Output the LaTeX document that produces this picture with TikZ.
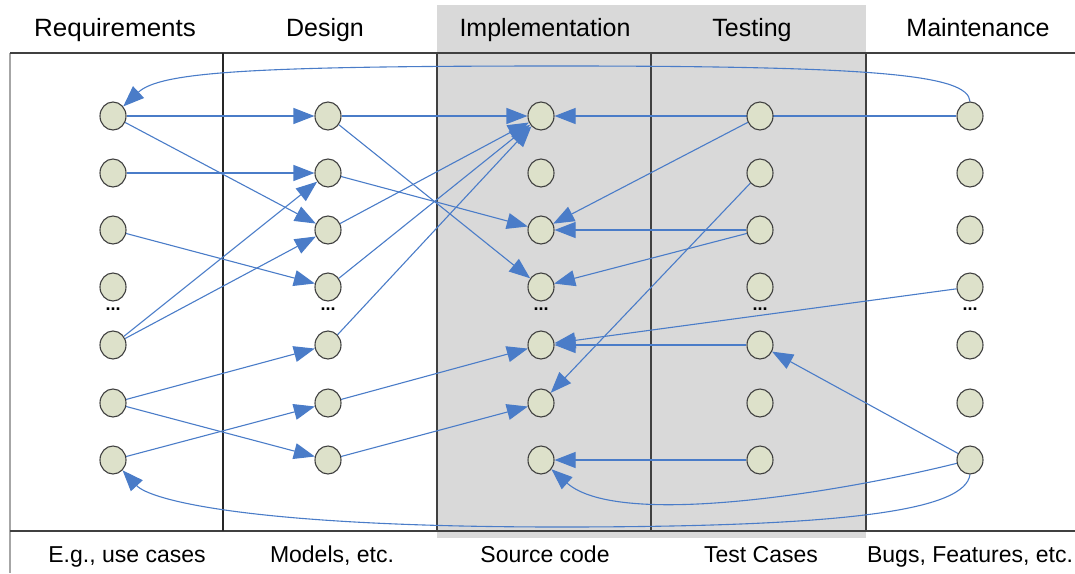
\documentclass[tikz,border=0pt]{standalone}
\usepackage{fontspec}
\setmainfont{Liberation Sans}
\usetikzlibrary{arrows.meta,shapes.geometric}
\definecolor{arrowblue}{HTML}{4A7CC8}
\definecolor{nodefill}{HTML}{DDE1CA}
\definecolor{panelgray}{HTML}{D9D9D9}
\pgfdeclarelayer{back}
\pgfdeclarelayer{edges}
\pgfsetlayers{back,edges,main}
\begin{document}
\begin{tikzpicture}[x=1pt,y=-1pt,
  nd/.style={ellipse,draw=black!75,line width=1.1pt,fill=nodefill,minimum width=26pt,minimum height=28pt,inner sep=0pt},
  arr/.style={draw=arrowblue,line width=1.1pt,-{Triangle[length=21pt,width=16pt]}},
  head/.style={font=\fontsize{25}{30}\selectfont,anchor=base,inner sep=0pt},
  foot/.style={font=\fontsize{23}{28}\selectfont,anchor=base,inner sep=0pt},
  dotsnode/.style={font=\fontsize{18}{18}\selectfont\bfseries,inner sep=0pt}]
\useasboundingbox (0,0) rectangle (1075,573);

% nodes
\foreach \c/\x in {R/113,D/328,I/541,T/760,M/970}{
  \foreach \r/\y in {1/116,2/173,3/230,4/287,5/345,6/403,7/460}{
    \node[nd] (\c\r) at (\x,\y) {};
  }
  \node[dotsnode] (\c dots) at (\x,309) {...};
}
\coordinate (topmid) at (560,66);
\coordinate (botmid) at (560,527);

% headers and footers
\node[head,xscale=1.04] (hR) at (115,36) {Requirements};
\node[head] (hD) at (325,36) {Design};
\node[head] (hI) at (545,36) {Implementation};
\node[head] (hT) at (752,36) {Testing};
\node[head] (hM) at (978,36) {Maintenance};
\node[foot] (fR) at (127,562) {E.g., use cases};
\node[foot] (fD) at (332,562) {Models, etc.};
\node[foot] (fI) at (545,562) {Source code};
\node[foot] (fT) at (761,562) {Test Cases};
\node[foot] (fM) at (970,562) {Bugs, Features, etc.};

% background panel and grid
\begin{pgfonlayer}{back}
  \fill[panelgray] (437,5) rectangle (866,538);
  \draw[black!35,line width=1.2pt] (10,53) -- (10,573);
  \draw[black!75,line width=2pt] (10,53) -- (1075,53);
  \draw[black!75,line width=2pt] (10,531) -- (1075,531);
  \draw[black!85,line width=1.2pt] (223,53) -- (223,531);
  \draw[black!75,line width=1.6pt] (437,53) -- (437,531);
  \draw[black!75,line width=2pt] (651,53) -- (651,531);
  \draw[black!75,line width=2pt] (866,53) -- (866,531);
\end{pgfonlayer}

% edges
\begin{pgfonlayer}{edges}
  % requirements -> design
  \draw[arr] (R1) -- (D1);
  \draw[arr] (R1) -- (D3);
  \draw[arr] (R2) -- (D2);
  \draw[arr] (R3) -- (D4);
  \draw[arr] (R5) -- (D2);
  \draw[arr] (R5) -- (D3);
  \draw[arr] (R6) -- (D5);
  \draw[arr] (R6) -- (D7);
  \draw[arr] (R7) -- (D6);
  % design -> implementation
  \draw[arr] (D1) -- (I1);
  \draw[arr] (D1) -- (I4);
  \draw[arr] (D2) -- (I3);
  \draw[arr] (D3) -- (I1);
  \draw[arr] (D4) -- (I1);
  \draw[arr] (D5) -- (I1);
  \draw[arr] (D6) -- (I5);
  \draw[arr] (D7) -- (I6);
  % testing -> implementation
  \draw[arr] (M1) -- (I1);
  \draw[arr] (T1) -- (I3);
  \draw[arr] (T2) -- (I6);
  \draw[arr] (T3) -- (I3);
  \draw[arr] (T3) -- (I4);
  \draw[arr] (T5) -- (I5);
  \draw[arr] (T7) -- (I7);
  % maintenance
  \draw[arr] (M4) -- (I5);
  \draw[arr] (M7) -- (T5);
  \draw[arr] (M1.north) .. controls (968,75) and (880,66) .. (topmid)
             .. controls (250,66) and (160,72) .. (R1);
  \draw[arr] (M7) .. controls (850,490) and (620,530) .. (I7);
  \draw[arr] (M7.south) .. controls (965,510) and (850,527) .. (botmid)
             .. controls (250,527) and (150,500) .. (R7);
\end{pgfonlayer}
\end{tikzpicture}
\end{document}
